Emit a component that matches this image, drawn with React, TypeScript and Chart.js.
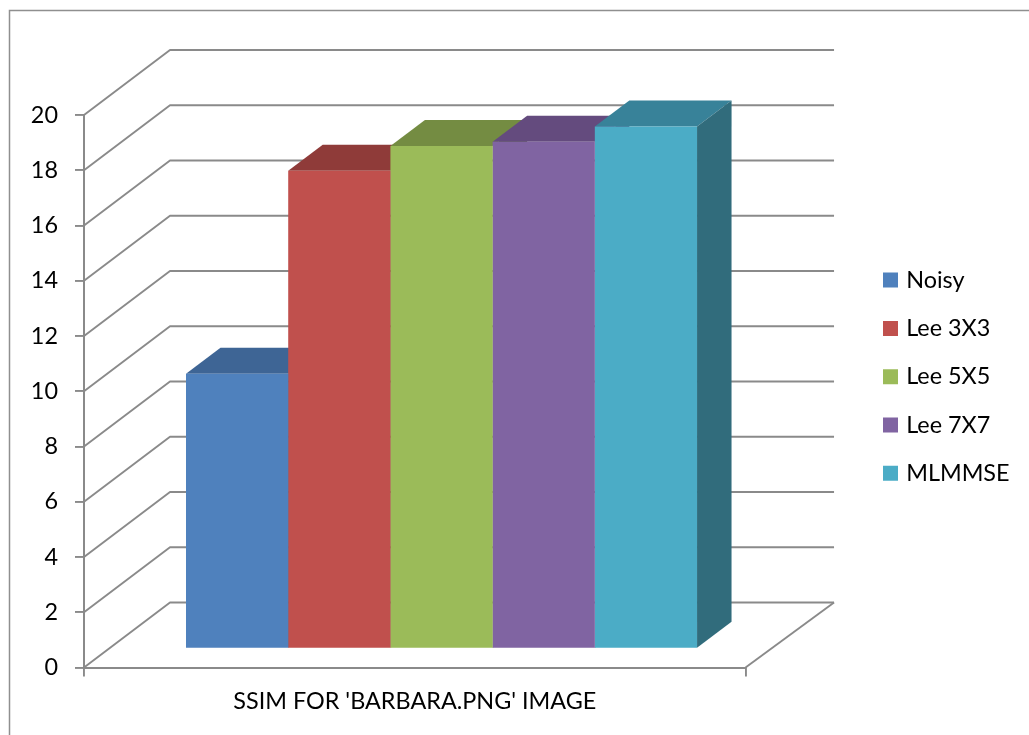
import React, { useEffect, useRef } from "react";
import { Chart, registerables } from "chart.js";

Chart.register(...registerables);

const categories = ["SSIM FOR 'BARBARA.PNG' IMAGE"];
const seriesNames = ["Noisy", "Lee 3X3", "Lee 5X5", "Lee 7X7", "MLMMSE"];
const seriesValues = [9.95, 17.3, 18.2, 18.35, 18.9];
const frontColors = ["#4F81BD", "#C0504D", "#9BBB59", "#8064A2", "#4BACC6"];
const topColors = ["#3E6595", "#8F3B39", "#748C42", "#644B7E", "#388299"];
const sideColors = ["#335378", "#74302E", "#5E7236", "#513D66", "#316C7C"];
const axisTicks = { min: 0, max: 20, stepSize: 2 };

const FONT_FAMILY = "Lato";
const FONT_SIZE = 23.4;
const AXIS_COLOR = "#8a8a8a";

// Oblique offsets of the pseudo-3D box, relative to the front axis plane.
const WALL = { left: 86, right: 88.5, up: 65 };
const BAR_PLANE = { dx: 26.75, dy: -18.8 };
const BAR_DEPTH = { dx: 34.5, dy: -26 };
const LEGEND_PADDING = 24.9;

const frame3d = {
  id: "frame3d",
  afterLayout(chart: any) {
    // Place the legend column beside the box.
    const legend = chart.legend;
    legend.top = 268.4 - LEGEND_PADDING;
    legend.bottom = legend.top + 300;
    legend.left = 886.5 - LEGEND_PADDING;
    legend.right = chart.width;
    legend.width = legend.right - legend.left;
  },
  beforeDraw(chart: any) {
    const { ctx, width, height } = chart;
    ctx.save();
    ctx.fillStyle = "#ffffff";
    ctx.fillRect(0, 0, width, height);
    ctx.strokeStyle = "#8f8f8f";
    ctx.lineWidth = 1.5;
    ctx.beginPath();
    ctx.moveTo(9.5, height);
    ctx.lineTo(9.5, 10.5);
    ctx.lineTo(width, 10.5);
    ctx.stroke();
    ctx.restore();
  },
  beforeDatasetsDraw(chart: any) {
    const { ctx, chartArea, scales } = chart;
    const { left, right } = chartArea;
    const yScale = scales.y;
    ctx.save();
    ctx.strokeStyle = AXIS_COLOR;
    ctx.lineWidth = 1.9;
    ctx.lineJoin = "round";
    yScale.ticks.forEach((tick: any) => {
      const y = yScale.getPixelForValue(tick.value);
      ctx.beginPath();
      ctx.moveTo(left, y);
      ctx.lineTo(left + WALL.left, y - WALL.up);
      ctx.lineTo(right + WALL.right, y - WALL.up);
      ctx.stroke();
    });
    const floorY = yScale.getPixelForValue(axisTicks.min);
    ctx.beginPath();
    ctx.moveTo(right, floorY);
    ctx.lineTo(right + WALL.right, floorY - WALL.up);
    ctx.stroke();

    // Top and side faces, left to right, so the next bar's front covers them.
    chart.data.datasets.forEach((_: any, i: number) => {
      const bar = chart.getDatasetMeta(i).data[0].getProps(["x", "y", "base", "width"]);
      const x0 = bar.x - bar.width / 2 + BAR_PLANE.dx;
      const x1 = bar.x + bar.width / 2 + BAR_PLANE.dx;
      const yTop = bar.y + BAR_PLANE.dy;
      const yBase = bar.base + BAR_PLANE.dy;
      ctx.fillStyle = topColors[i];
      ctx.beginPath();
      ctx.moveTo(x0, yTop);
      ctx.lineTo(x0 + BAR_DEPTH.dx, yTop + BAR_DEPTH.dy);
      ctx.lineTo(x1 + BAR_DEPTH.dx, yTop + BAR_DEPTH.dy);
      ctx.lineTo(x1, yTop);
      ctx.closePath();
      ctx.fill();
      ctx.fillStyle = sideColors[i];
      ctx.beginPath();
      ctx.moveTo(x1, yTop);
      ctx.lineTo(x1 + BAR_DEPTH.dx, yTop + BAR_DEPTH.dy);
      ctx.lineTo(x1 + BAR_DEPTH.dx, yBase + BAR_DEPTH.dy);
      ctx.lineTo(x1, yBase);
      ctx.closePath();
      ctx.fill();
    });
    ctx.restore();

    // Front faces sit on a plane part-way back along the floor.
    ctx.save();
    ctx.translate(BAR_PLANE.dx, BAR_PLANE.dy);
  },
  afterDatasetsDraw(chart: any) {
    chart.ctx.restore();
  },
};

export default function App() {
  const canvasRef = useRef<HTMLCanvasElement | null>(null);

  useEffect(() => {
    const chart = new Chart(canvasRef.current as HTMLCanvasElement, {
      type: "bar",
      data: {
        labels: categories,
        datasets: seriesNames.map((name, i) => ({
          label: name,
          data: [seriesValues[i]],
          backgroundColor: frontColors[i],
          borderWidth: 0,
        })),
      },
      options: {
        animation: false,
        responsive: false,
        devicePixelRatio: 1,
        categoryPercentage: 0.7725,
        barPercentage: 1,
        layout: { padding: { top: 115, right: 125.5, bottom: 0, left: 0 } },
        plugins: {
          title: { display: false },
          tooltip: { enabled: false },
          legend: {
            position: "right",
            align: "start",
            labels: {
              usePointStyle: true,
              pointStyle: "rect",
              boxWidth: 8,
              boxHeight: 15,
              padding: LEGEND_PADDING,
              color: "#000000",
              font: { family: FONT_FAMILY, size: FONT_SIZE },
            },
          },
        },
        scales: {
          x: {
            afterFit: (s: any) => {
              s.height = 67.5;
            },
            grid: { drawOnChartArea: false, tickLength: 9, color: AXIS_COLOR, lineWidth: 1.9 },
            border: { color: AXIS_COLOR, width: 2 },
            ticks: { color: "#000000", padding: 11, font: { family: FONT_FAMILY, size: FONT_SIZE } },
          },
          y: {
            min: axisTicks.min,
            max: axisTicks.max,
            afterFit: (s: any) => {
              s.width = 84;
            },
            grid: { drawOnChartArea: false, tickLength: 9, color: AXIS_COLOR, lineWidth: 1.9 },
            border: { color: AXIS_COLOR, width: 2 },
            ticks: {
              stepSize: axisTicks.stepSize,
              color: "#000000",
              padding: 17,
              font: { family: FONT_FAMILY, size: FONT_SIZE },
            },
          },
        },
      },
      plugins: [frame3d],
    } as any);
    return () => chart.destroy();
  }, []);

  return (
    <canvas
      ref={canvasRef}
      width={1029}
      height={735}
      style={{ position: "fixed", left: 0, top: 0, display: "block" }}
    />
  );
}
